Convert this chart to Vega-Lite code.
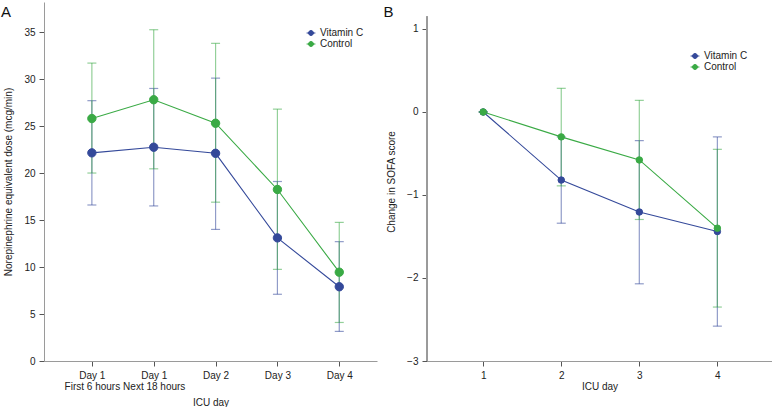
{
  "$schema": "https://vega.github.io/schema/vega-lite/v6.json",
  "padding": {"left": 0, "top": 2, "right": 0, "bottom": 0},
  "background": "white",
  "resolve": {"scale": {"color": "independent", "stroke": "independent"}, "legend": {"color": "independent", "stroke": "independent"}},
  "config": {
    "view": {"stroke": null},
    "font": "Liberation Sans",
    "axis": {
      "grid": false,
      "domainColor": "#9a9a9a",
      "tickColor": "#555555",
      "tickSize": 5,
      "labelFontSize": 10,
      "labelColor": "#222222",
      "titleFontSize": 10,
      "titleFontWeight": "normal",
      "titleColor": "#222222",
      "labelPadding": 4,
      "labelOverlap": false
    },
    "legend": {
      "orient": "none",
      "title": null,
      "labelFontSize": 10,
      "labelColor": "#222222",
      "symbolSize": 121,
      "symbolStrokeWidth": 1,
      "rowPadding": 0,
      "padding": 0,
      "labelOffset": 3
    },
    "title": {"fontSize": 15, "fontWeight": "normal", "anchor": "start", "frame": "bounds", "color": "#111111"},
    "concat": {"spacing": 6}
  },
  "hconcat": [
    {
      "title": {"text": "A", "offset": -18, "dx": -3},
      "width": 333,
      "height": 359,
      "data": {"values": [
        {"day": 1, "group": "Vitamin C", "mean": 22.15, "lo": 16.6, "hi": 27.7},
        {"day": 2, "group": "Vitamin C", "mean": 22.75, "lo": 16.5, "hi": 29.0},
        {"day": 3, "group": "Vitamin C", "mean": 22.1, "lo": 14.0, "hi": 30.1},
        {"day": 4, "group": "Vitamin C", "mean": 13.1, "lo": 7.1, "hi": 19.1},
        {"day": 5, "group": "Vitamin C", "mean": 7.9, "lo": 3.15, "hi": 12.7},
        {"day": 1, "group": "Control", "mean": 25.8, "lo": 20.0, "hi": 31.7},
        {"day": 2, "group": "Control", "mean": 27.8, "lo": 20.45, "hi": 35.25},
        {"day": 3, "group": "Control", "mean": 25.3, "lo": 16.9, "hi": 33.8},
        {"day": 4, "group": "Control", "mean": 18.25, "lo": 9.75, "hi": 26.8},
        {"day": 5, "group": "Control", "mean": 9.45, "lo": 4.1, "hi": 14.75}
      ]},
      "encoding": {
        "x": {
          "field": "day", "type": "quantitative",
          "scale": {"domain": [0.226, 5.61], "nice": false, "zero": false},
          "axis": {
            "values": [1, 2, 3, 4, 5],
            "title": "ICU day",
            "titlePadding": 6,
            "labelLineHeight": 11,
            "labelExpr": "datum.value == 1 ? ['Day 1', 'First 6 hours'] : datum.value == 2 ? ['Day 1', 'Next 18 hours'] : 'Day ' + (datum.value - 1)"
          }
        }
      },
      "layer": [
        {
          "mark": {"type": "errorbar", "ticks": {"size": 9, "opacity": 0.55}, "rule": {"opacity": 0.55}, "thickness": 1.2},
          "encoding": {
            "y": {"field": "lo", "type": "quantitative", "title": "Norepinephrine equivalent dose (mcg/min)",
              "scale": {"domain": [0, 38.2], "nice": false},
              "axis": {"values": [0, 5, 10, 15, 20, 25, 30, 35], "titlePadding": 10}},
            "y2": {"field": "hi"},
            "detail": {"field": "group", "type": "nominal"},
            "color": {"condition": {"test": "datum.group == 'Control'", "value": "#3aaa45"}, "value": "#34499a"}
          }
        },
        {
          "mark": {"type": "line", "strokeWidth": 1.1},
          "encoding": {
            "y": {"field": "mean", "type": "quantitative", "title": "Norepinephrine equivalent dose (mcg/min)",
              "scale": {"domain": [0, 38.2], "nice": false},
              "axis": {"values": [0, 5, 10, 15, 20, 25, 30, 35], "titlePadding": 10}},
            "detail": {"field": "group", "type": "nominal"},
            "color": {"condition": {"test": "datum.group == 'Control'", "value": "#3aaa45"}, "value": "#34499a"}
          }
        },
        {
          "mark": {"type": "circle", "size": 70, "opacity": 1, "strokeWidth": 1},
          "encoding": {
            "y": {"field": "mean", "type": "quantitative", "title": "Norepinephrine equivalent dose (mcg/min)",
              "scale": {"domain": [0, 38.2], "nice": false},
              "axis": {"values": [0, 5, 10, 15, 20, 25, 30, 35], "titlePadding": 10}},
            "color": {"field": "group", "type": "nominal",
              "scale": {"domain": ["Vitamin C", "Control"], "range": ["#34499a", "#3aaa45"]},
              "legend": {"legendX": 261, "legendY": 25, "symbolSize": 121, "symbolType": "M-0.8,0L0.8,0M0.45,0C0.45,0.248,0.248,0.45,0,0.45C-0.248,0.45,-0.45,0.248,-0.45,0C-0.45,-0.248,-0.248,-0.45,0,-0.45C0.248,-0.45,0.45,-0.248,0.45,0Z"}},
            "stroke": {"field": "group", "type": "nominal",
              "scale": {"domain": ["Vitamin C", "Control"], "range": ["#34499a", "#3aaa45"]},
              "legend": {"legendX": 261, "legendY": 25, "symbolSize": 121, "symbolType": "M-0.8,0L0.8,0M0.45,0C0.45,0.248,0.248,0.45,0,0.45C-0.248,0.45,-0.45,0.248,-0.45,0C-0.45,-0.248,-0.248,-0.45,0,-0.45C0.248,-0.45,0.45,-0.248,0.45,0Z"}}
          }
        }
      ]
    },
    {
      "title": {"text": "B", "offset": -18, "dx": -3},
      "width": 345,
      "height": 359,
      "data": {"values": [
        {"day": 1, "group": "Vitamin C", "mean": 0, "lo": 0, "hi": 0},
        {"day": 2, "group": "Vitamin C", "mean": -0.82, "lo": -1.34, "hi": -0.3},
        {"day": 3, "group": "Vitamin C", "mean": -1.205, "lo": -2.07, "hi": -0.345},
        {"day": 4, "group": "Vitamin C", "mean": -1.44, "lo": -2.58, "hi": -0.3},
        {"day": 1, "group": "Control", "mean": 0, "lo": 0, "hi": 0},
        {"day": 2, "group": "Control", "mean": -0.3, "lo": -0.89, "hi": 0.285},
        {"day": 3, "group": "Control", "mean": -0.578, "lo": -1.295, "hi": 0.14},
        {"day": 4, "group": "Control", "mean": -1.4, "lo": -2.35, "hi": -0.45}
      ]},
      "encoding": {
        "x": {
          "field": "day", "type": "quantitative",
          "scale": {"domain": [0.28, 4.7], "nice": false, "zero": false},
          "axis": {"values": [1, 2, 3, 4], "title": "ICU day", "titlePadding": 1, "format": "d"}
        }
      },
      "layer": [
        {
          "mark": {"type": "rule", "strokeDash": [4, 3], "strokeWidth": 1.2},
          "encoding": {
            "y": {"datum": 0, "type": "quantitative", "title": "Change in SOFA score",
              "scale": {"domain": [-3, 1.325], "nice": false, "zero": false},
              "axis": {"values": [-3, -2, -1, 0, 1], "titlePadding": 10, "domain": false, "format": "d"}},
            "color": {"value": "#9a9a9a"}
          }
        },
        {
          "mark": {"type": "rule", "strokeWidth": 1},
          "encoding": {
            "x": {"datum": 0.28, "type": "quantitative"},
            "y": {"datum": -3, "type": "quantitative", "title": "Change in SOFA score",
              "scale": {"domain": [-3, 1.325], "nice": false, "zero": false},
              "axis": {"values": [-3, -2, -1, 0, 1], "titlePadding": 10, "domain": false, "format": "d"}},
            "y2": {"datum": 1.15},
            "color": {"value": "#9a9a9a"}
          }
        },
        {
          "mark": {"type": "errorbar", "ticks": {"size": 9, "opacity": 0.55}, "rule": {"opacity": 0.55}, "thickness": 1.2},
          "encoding": {
            "y": {"field": "lo", "type": "quantitative", "title": "Change in SOFA score",
              "scale": {"domain": [-3, 1.325], "nice": false, "zero": false},
              "axis": {"values": [-3, -2, -1, 0, 1], "titlePadding": 10, "domain": false, "format": "d"}},
            "y2": {"field": "hi"},
            "detail": {"field": "group", "type": "nominal"},
            "color": {"condition": {"test": "datum.group == 'Control'", "value": "#3aaa45"}, "value": "#34499a"}
          }
        },
        {
          "mark": {"type": "line", "strokeWidth": 1.1},
          "encoding": {
            "y": {"field": "mean", "type": "quantitative", "title": "Change in SOFA score",
              "scale": {"domain": [-3, 1.325], "nice": false, "zero": false},
              "axis": {"values": [-3, -2, -1, 0, 1], "titlePadding": 10, "domain": false, "format": "d"}},
            "detail": {"field": "group", "type": "nominal"},
            "color": {"condition": {"test": "datum.group == 'Control'", "value": "#3aaa45"}, "value": "#34499a"}
          }
        },
        {
          "mark": {"type": "circle", "size": 42, "opacity": 1, "strokeWidth": 1},
          "encoding": {
            "y": {"field": "mean", "type": "quantitative", "title": "Change in SOFA score",
              "scale": {"domain": [-3, 1.325], "nice": false, "zero": false},
              "axis": {"values": [-3, -2, -1, 0, 1], "titlePadding": 10, "domain": false, "format": "d"}},
            "color": {"field": "group", "type": "nominal",
              "scale": {"domain": ["Vitamin C", "Control"], "range": ["#34499a", "#3aaa45"]},
              "legend": {"legendX": 262, "legendY": 48, "symbolSize": 121, "symbolType": "M-0.8,0L0.8,0M0.45,0C0.45,0.248,0.248,0.45,0,0.45C-0.248,0.45,-0.45,0.248,-0.45,0C-0.45,-0.248,-0.248,-0.45,0,-0.45C0.248,-0.45,0.45,-0.248,0.45,0Z"}},
            "stroke": {"field": "group", "type": "nominal",
              "scale": {"domain": ["Vitamin C", "Control"], "range": ["#34499a", "#3aaa45"]},
              "legend": {"legendX": 262, "legendY": 48, "symbolSize": 121, "symbolType": "M-0.8,0L0.8,0M0.45,0C0.45,0.248,0.248,0.45,0,0.45C-0.248,0.45,-0.45,0.248,-0.45,0C-0.45,-0.248,-0.248,-0.45,0,-0.45C0.248,-0.45,0.45,-0.248,0.45,0Z"}}
          }
        }
      ]
    }
  ]
}
